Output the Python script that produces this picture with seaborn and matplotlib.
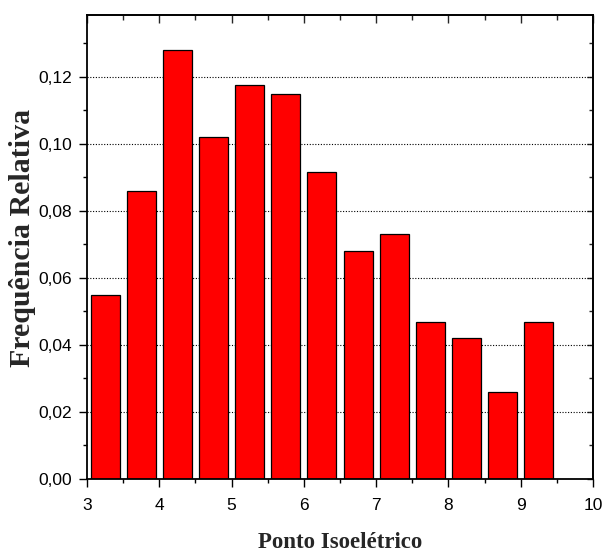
import matplotlib
matplotlib.use("Agg")
import matplotlib.pyplot as plt
from matplotlib.ticker import MultipleLocator, FuncFormatter
import seaborn as sns
import pandas as pd

# Isoelectric point bins (centres) and relative frequency of proteins
ponto_isoeletrico = [3.25, 3.75, 4.25, 4.75, 5.25, 5.75, 6.25,
                     6.75, 7.25, 7.75, 8.25, 8.75, 9.25]
frequencia_relativa = [0.055, 0.086, 0.128, 0.102, 0.1175, 0.115, 0.0915,
                       0.068, 0.073, 0.047, 0.042, 0.026, 0.047]

df = pd.DataFrame({"pI": ponto_isoeletrico, "freq": frequencia_relativa})

sns.set_style("white")
plt.rcParams["font.family"] = ["Liberation Sans", "DejaVu Sans"]

fig = plt.figure(figsize=(6.05, 5.54), dpi=100)
ax = fig.add_axes([0.1438, 0.1354, 0.9802 - 0.1438, 0.9729 - 0.1354])

sns.barplot(data=df, x="pI", y="freq", native_scale=True, width=0.8,
            color="#ff0000", saturation=1, edgecolor="black",
            linewidth=0.9, ax=ax, zorder=2)

ax.set_xlim(3, 10)
ax.set_ylim(0, 0.1385)

ax.xaxis.set_major_locator(MultipleLocator(1))
ax.xaxis.set_minor_locator(MultipleLocator(0.5))
ax.yaxis.set_major_locator(MultipleLocator(0.02))
ax.yaxis.set_minor_locator(MultipleLocator(0.01))
ax.yaxis.set_major_formatter(FuncFormatter(lambda v, p: f"{v:.2f}".replace(".", ",")))
ax.xaxis.set_major_formatter(FuncFormatter(lambda v, p: f"{v:.0f}"))

ax.tick_params(axis="both", which="major", direction="out", length=5.5,
               width=1, color="black", labelsize=12.5, labelcolor="black")
ax.tick_params(axis="both", which="minor", direction="out", length=3,
               width=1, color="black")
ax.tick_params(axis="x", which="major", pad=8)
ax.tick_params(axis="y", which="major", pad=5)
ax.tick_params(bottom=True, left=True, which="both")

for s in ax.spines.values():
    s.set_visible(True)
    s.set_color("black")
    s.set_linewidth(1.3)

# dotted horizontal grid at major y ticks
ax.yaxis.grid(True, linestyle=(0, (1, 1.5)), color="black", linewidth=0.8)
ax.xaxis.grid(False)
ax.set_axisbelow(True)

# mirrored ticks on top and right, pointing into the plot
top = ax.secondary_xaxis("top")
top.xaxis.set_major_locator(MultipleLocator(1))
top.xaxis.set_minor_locator(MultipleLocator(0.5))
top.tick_params(which="major", direction="in", length=6, width=1, labeltop=False)
top.tick_params(which="minor", direction="in", length=3.5, width=1)
top.spines["top"].set_linewidth(1.3)

right = ax.secondary_yaxis("right")
right.yaxis.set_major_locator(MultipleLocator(0.02))
right.yaxis.set_minor_locator(MultipleLocator(0.01))
right.tick_params(which="major", direction="in", length=4, width=1, labelright=False)
right.tick_params(which="minor", direction="in", length=3, width=1)
right.spines["right"].set_linewidth(1.3)

ax.set_xlabel("Ponto Isoelétrico", family=["Liberation Serif"], fontweight="bold",
              fontsize=16.5, va="center")
ax.set_ylabel("Frequência Relativa", family=["Liberation Serif"], fontweight="bold",
              fontsize=21.5, va="center")
ax.xaxis.set_label_coords(0.5, -0.136)
ax.yaxis.set_label_coords(-0.128, 0.52)

fig.savefig("out.png", dpi=100)
